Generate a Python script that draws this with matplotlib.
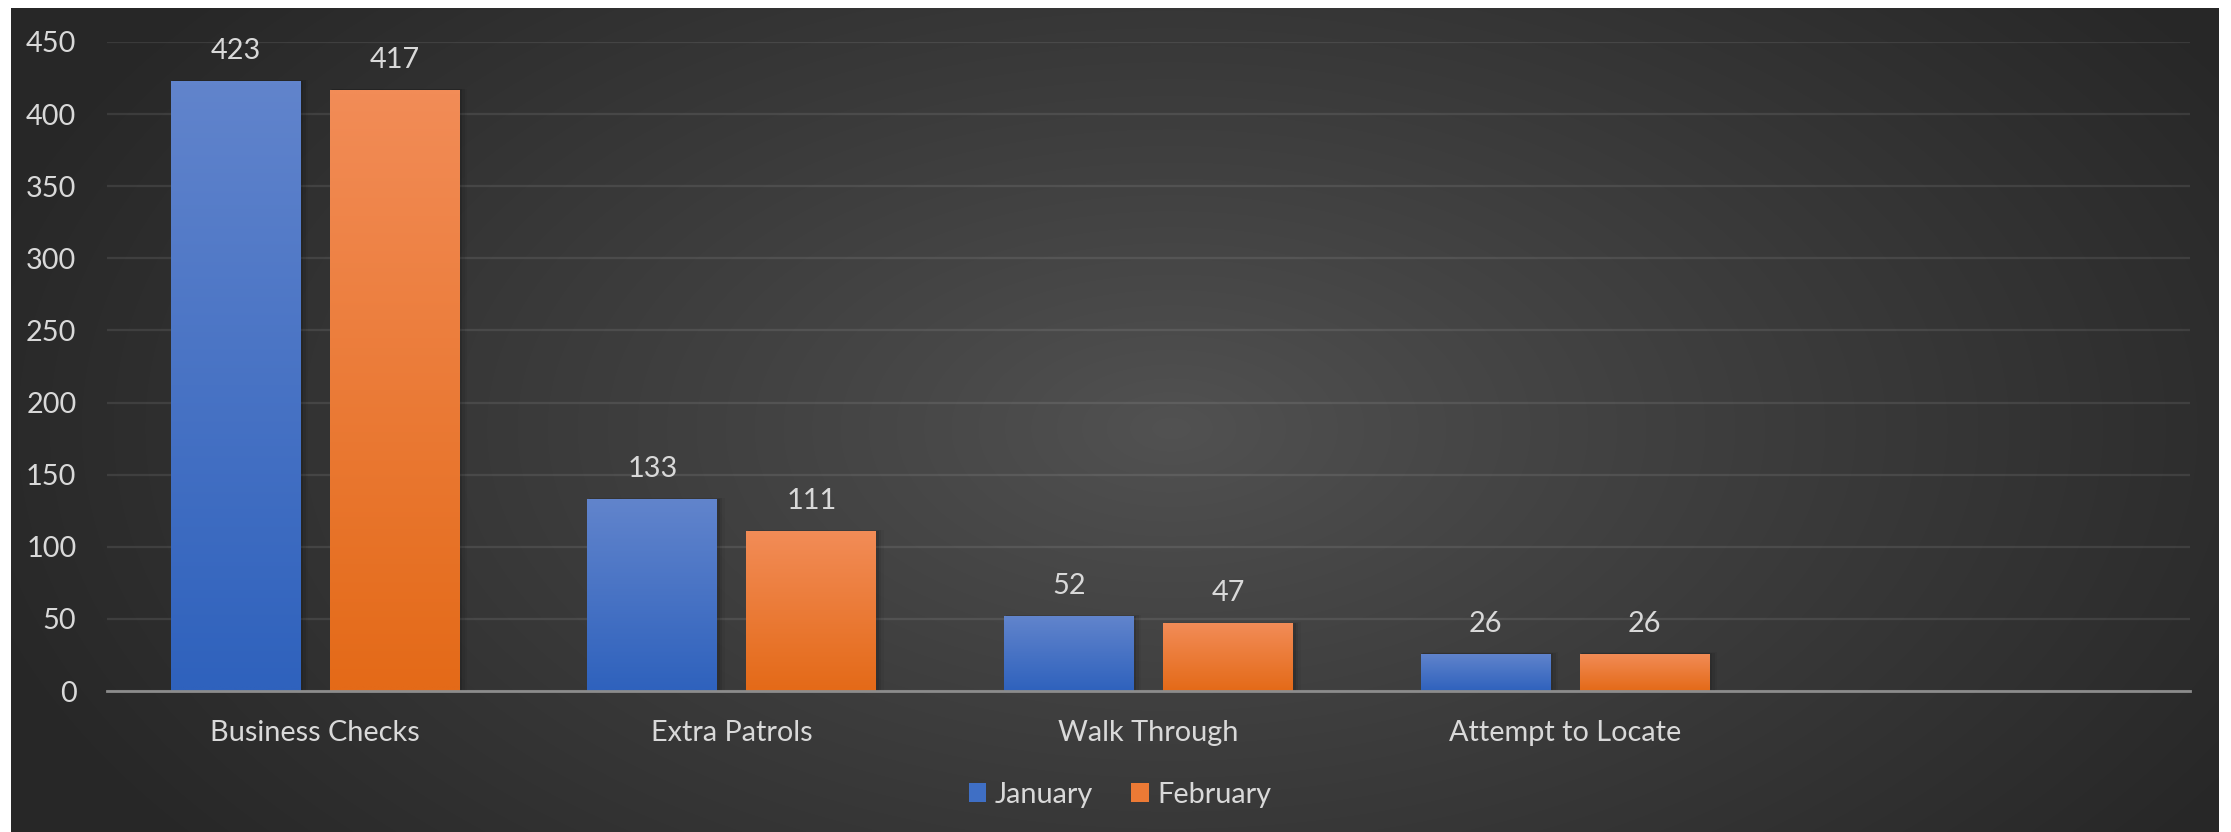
import numpy as np
import matplotlib.pyplot as plt
from matplotlib.patches import Patch, Rectangle

categories = ["Business Checks", "Extra Patrols", "Walk Through", "Attempt to Locate", ""]
january = [423, 133, 52, 26, None]
february = [417, 111, 47, 26, None]
series_names = ["January", "February"]
y_ticks = [0, 50, 100, 150, 200, 250, 300, 350, 400, 450]

W, H = 2231, 832
plt.rcParams['font.family'] = ['Lato', 'DejaVu Sans']
TEXT = '#d9d9d9'
FS = 20.8

fig = plt.figure(figsize=(W / 100, H / 100), dpi=100, facecolor='white')

# dark chart area with a soft radial highlight
bx0, bx1, by_top = 11, 2219, 8
bg = fig.add_axes([bx0 / W, 0, (bx1 - bx0) / W, (H - by_top) / H])
bg.set_axis_off()
gw, gh = bx1 - bx0, H - by_top
xx, yy = np.meshgrid(np.arange(gw), np.arange(gh))
cx, cy = 1160, 420
r = np.sqrt(((xx - cx) / 1250.0) ** 2 + ((yy - cy) / 700.0) ** 2)
t = np.clip(r, 0, 1)
lo, hi = 0x27 / 255, 0x52 / 255
val = hi + (lo - hi) * t ** 0.9
img = np.dstack([val, val, val])
bg.imshow(img, extent=[0, gw, gh, 0], aspect='auto', interpolation='bilinear')
bg.set_xlim(0, gw)
bg.set_ylim(gh, 0)

# plot area
px0, px1, py0, py1 = 107, 2190, 691, 42
ax = fig.add_axes([px0 / W, (H - py0) / H, (px1 - px0) / W, (py0 - py1) / H])
ax.set_facecolor('none')

x = np.arange(len(categories))
bw = 0.312
off = 0.191

def grad_bar(xc, h, top_col, bot_col):
    rect = Rectangle((xc - bw / 2, 0), bw, h, facecolor='none', edgecolor='none', zorder=3)
    ax.add_patch(rect)
    # subtle drop shadow
    for k, a in enumerate([0.10, 0.07, 0.04]):
        d = 0.004 * (k + 1)
        ax.add_patch(Rectangle((xc - bw / 2 + d * 0.5, 0), bw + d, h + d * 60,
                               facecolor='black', alpha=a, edgecolor='none', zorder=2))
    c1 = np.array(top_col)
    c2 = np.array(bot_col)
    s = np.linspace(0, 1, 64)[:, None]
    g = (c1 * (1 - s) + c2 * s)[:, None, :]
    im = ax.imshow(g, extent=[xc - bw / 2, xc + bw / 2, 0, h], origin='upper',
                   aspect='auto', zorder=3, interpolation='bilinear')
    im.set_clip_path(rect)

def hexrgb(h):
    h = h.lstrip('#')
    return [int(h[i:i + 2], 16) / 255 for i in (0, 2, 4)]

blue_top, blue_bot = hexrgb('#6184cc'), hexrgb('#2f62bd')
orng_top, orng_bot = hexrgb('#f28c57'), hexrgb('#e46a18')

for i in range(len(categories)):
    if january[i] is not None:
        grad_bar(x[i] - off, january[i], blue_top, blue_bot)
        ax.annotate(str(january[i]), (x[i] - off, january[i]), xytext=(0, 21.5),
                    textcoords='offset points', ha='center', va='center',
                    color=TEXT, fontsize=FS)
    if february[i] is not None:
        grad_bar(x[i] + off, february[i], orng_top, orng_bot)
        ax.annotate(str(february[i]), (x[i] + off, february[i]), xytext=(0, 21.5),
                    textcoords='offset points', ha='center', va='center',
                    color=TEXT, fontsize=FS)

ax.set_aspect('auto')
ax.set_xlim(-0.5, len(categories) - 0.5)
ax.set_ylim(0, 450)

ax.set_yticks(y_ticks)
ax.set_yticklabels([str(v) for v in y_ticks])
ax.set_xticks(x)
ax.set_xticklabels(categories)
ax.tick_params(axis='both', length=0, colors=TEXT, labelsize=FS)
ax.tick_params(axis='y', pad=22)
ax.tick_params(axis='x', pad=21)
ax.grid(axis='y', color='white', alpha=0.09, linewidth=1.6, zorder=1)
ax.set_axisbelow(True)
for sp in ['top', 'right', 'left']:
    ax.spines[sp].set_visible(False)
ax.spines['bottom'].set_color('#8c8c8c')
ax.spines['bottom'].set_linewidth(2.0)
ax.spines['bottom'].set_zorder(4)

handles = [Patch(facecolor='#3f6fc5', edgecolor='none'),
           Patch(facecolor='#ec7a35', edgecolor='none')]
leg = fig.legend(handles, series_names, loc='center', ncol=2, frameon=False,
                 bbox_to_anchor=(1120 / W, 1 - 795 / H), fontsize=FS,
                 handlelength=0.62, handleheight=0.62, handletextpad=0.3,
                 columnspacing=1.3, labelcolor=TEXT)

fig.savefig('out.png', dpi=100, facecolor='white')
